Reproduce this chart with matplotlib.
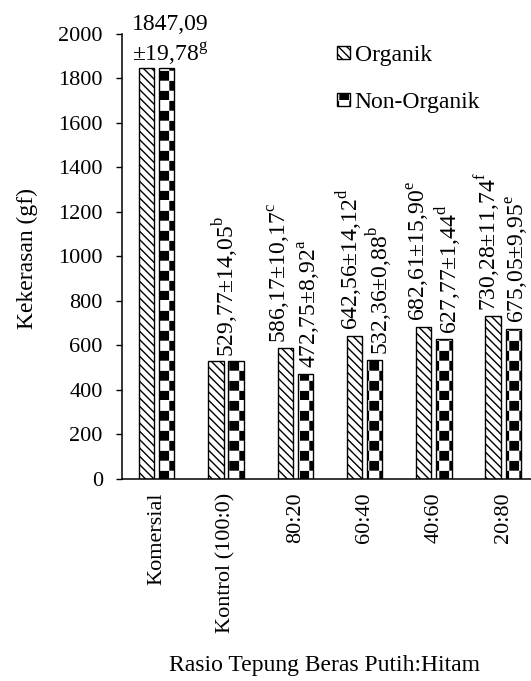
import warnings
import numpy as np
import matplotlib
matplotlib.use("Agg")
import matplotlib.pyplot as plt
import matplotlib.hatch as mhatch
from matplotlib.path import Path

warnings.filterwarnings("ignore")

# Data
categories = ["Komersial", "Kontrol (100:0)", "80:20", "60:40", "40:60", "20:80"]
organik = [1847.09, 529.77, 586.17, 642.56, 682.61, 730.28]
organik_sd = [19.78, 14.05, 10.17, 14.12, 15.90, 11.74]
organik_sig = ["g", "b", "c", "d", "e", "f"]
non_organik = [1847.09, 529.77, 472.75, 532.36, 627.77, 675.05]
non_organik_sd = [19.78, 14.05, 8.92, 0.88, 1.44, 9.95]
non_organik_sig = ["g", "b", "a", "b", "d", "e"]
yticks = list(range(0, 2001, 200))


# checkerboard hatch (excel style), triggered by the 'c' character
class CheckerHatch(mhatch.HatchPatternBase):
    def __init__(self, hatch, density):
        self.num_rows = 5 if "c" in hatch else 0
        self.num_vertices = self.num_rows ** 2 * 2 * 5

    def set_vertices_and_codes(self, vertices, codes):
        n = self.num_rows
        step = 1.0 / n
        size = step * 0.42
        k = 0
        for i in range(n):
            for j in range(n):
                for dx, dy in ((0, 0), (0.5, 0.5)):
                    x0 = (i + dx) * step
                    y0 = (j + dy) * step
                    vertices[k:k + 5] = [(x0, y0), (x0 + size, y0), (x0 + size, y0 + size),
                                         (x0, y0 + size), (x0, y0)]
                    codes[k:k + 5] = [Path.MOVETO, Path.LINETO, Path.LINETO,
                                      Path.LINETO, Path.CLOSEPOLY]
                    k += 5


mhatch._hatch_types.append(CheckerHatch)


def fmt(v):
    return f"{v:.2f}".replace(".", ",")


def sup(s):
    return f"$^{{\\mathrm{{{s}}}}}$"


plt.rcParams["font.family"] = ["Liberation Serif", "DejaVu Serif"]
plt.rcParams["mathtext.fontset"] = "custom"
plt.rcParams["mathtext.rm"] = "Liberation Serif"
plt.rcParams["hatch.linewidth"] = 1.0

fig = plt.figure(figsize=(5.31, 6.81), dpi=100)
ax = fig.add_axes([0.2298, 0.2971, 0.783, 0.653])

x = np.arange(len(categories))
width = 0.22
off = 0.145
ax.bar(x - off, organik, width, color="white", edgecolor="black", linewidth=1.0,
       hatch="\\\\\\\\", label="Organik")
ax.bar(x + off, non_organik, width, color="white", edgecolor="black", linewidth=1.0,
       hatch="c", label="Non-Organik")

# value labels (Komersial and Kontrol share one label for both bars)
ax.annotate(f"{fmt(organik[0])}\n±{fmt(organik_sd[0])}{sup(organik_sig[0])}",
            xy=(0.19, organik[0]), xytext=(0, 1), textcoords="offset points",
            ha="center", va="bottom", fontsize=17, linespacing=1.25)
ax.annotate(f"{fmt(organik[1])}±{fmt(organik_sd[1])}{sup(organik_sig[1])}",
            xy=(1, organik[1]), xytext=(0, 3), textcoords="offset points",
            ha="center", va="bottom", rotation=90, fontsize=17)
for i in range(2, len(categories)):
    ax.annotate(f"{fmt(organik[i])}±{fmt(organik_sd[i])}{sup(organik_sig[i])}",
                xy=(i - off, organik[i]), xytext=(-3.5, 4), textcoords="offset points",
                ha="center", va="bottom", rotation=90, fontsize=17)
    ax.annotate(f"{fmt(non_organik[i])}±{fmt(non_organik_sd[i])}{sup(non_organik_sig[i])}",
                xy=(i + off, non_organik[i]), xytext=(3.5, 4), textcoords="offset points",
                ha="center", va="bottom", rotation=90, fontsize=17)

ax.set_xlim(-0.5, 5.5)
ax.set_ylim(0, 2000)
ax.set_yticks(yticks)
ax.set_xticks(x)
ax.set_xticklabels(categories, rotation=90, fontsize=16)
ax.tick_params(axis="x", length=0, pad=10)
ax.tick_params(axis="y", length=4.3, width=1.0, direction="out", pad=9.5, labelsize=16)
for s in ["top", "right"]:
    ax.spines[s].set_visible(False)
for s in ["left", "bottom"]:
    ax.spines[s].set_linewidth(1.1)

ax.set_ylabel("Kekerasan (gf)", fontsize=17, va="center")
ax.yaxis.set_label_coords(-0.2285, 0.494)
ax.set_xlabel("Rasio Tepung Beras Putih:Hitam", fontsize=17, va="top")
ax.xaxis.set_label_coords(0.488, -0.396)

ax.legend(loc="upper left", bbox_to_anchor=(0.517, 0.975), frameon=False, fontsize=17,
          handlelength=0.55, handleheight=0.45, handletextpad=0.2, labelspacing=1.1,
          borderpad=0, borderaxespad=0)

plt.savefig("out.png", dpi=100)
plt.close(fig)
